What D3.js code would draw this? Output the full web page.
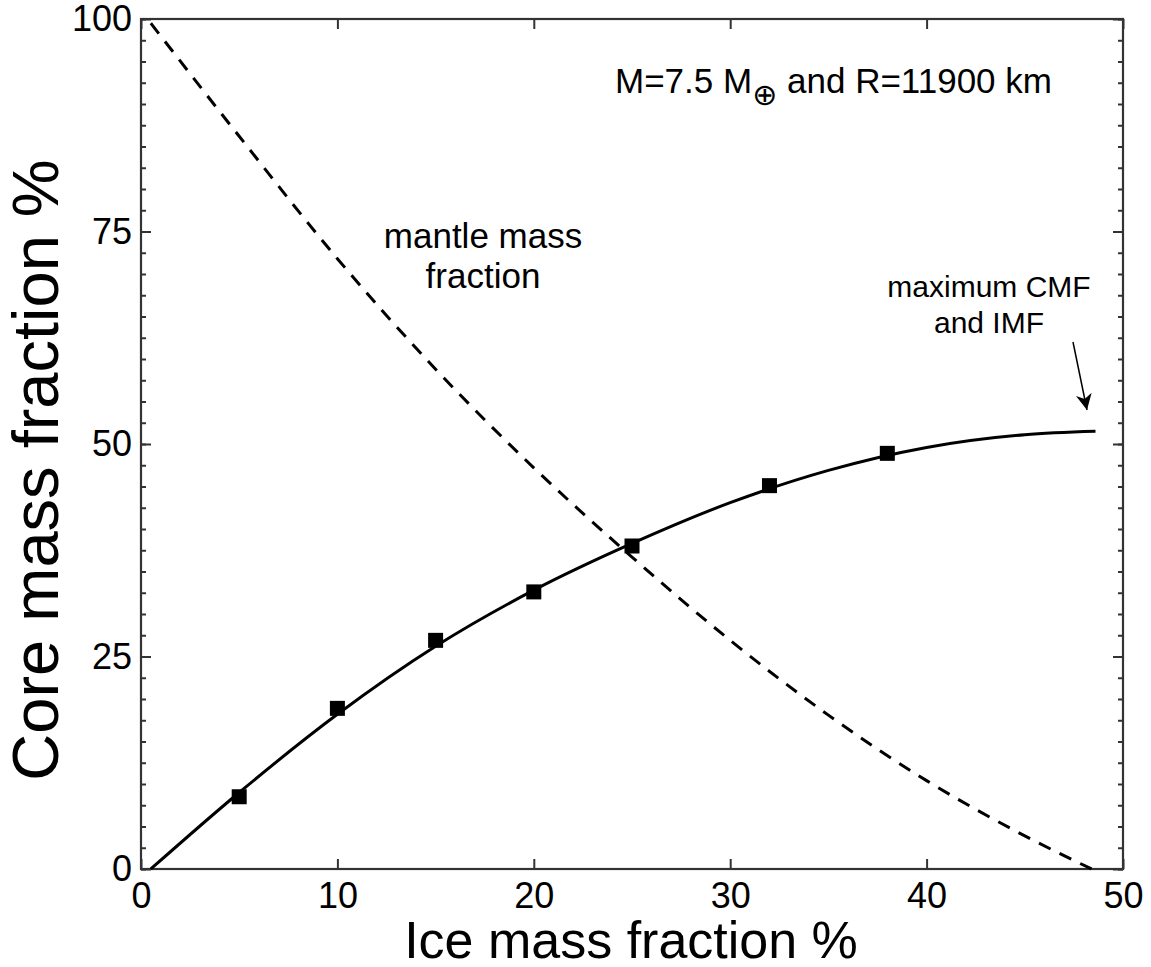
<!DOCTYPE html>
<html>
<head>
<meta charset="utf-8">
<script src="https://cdn.jsdelivr.net/npm/d3@7"></script>
<style>
  body { margin: 0; background: #fff; }
  text { font-family: "Liberation Sans", Arial, Helvetica, sans-serif; fill: #000; }
</style>
</head>
<body>
<svg id="chart" width="1151" height="967"></svg>
<script>
// Computed models (squares)
const iceFraction  = [5, 10, 15, 20, 25, 32, 38];
const coreFraction = [8.5, 18.9, 26.9, 32.6, 38.0, 45.1, 48.9];

// Fitted core mass fraction curve (solid)
const fitIce  = [0.5, 5, 10, 15, 20, 25, 30, 35, 40, 45, 48.6];
const fitCore = [0, 9.0, 18.2, 26.2, 32.8, 38.3, 43.1, 46.9, 49.6, 51.1, 51.5];

// Mantle mass fraction curve (dashed)
const mantleIce  = [0.5, 5, 10, 15, 20, 25, 30, 35, 40, 45, 48.4];
const mantleFrac = [99.5, 86.2, 71.8, 58.8, 47.2, 36.7, 26.9, 18.1, 10.4, 3.9, 0];

// Axis ticks
const xTicks = [0, 10, 20, 30, 40, 50];
const yTicks = [0, 25, 50, 75, 100];
const yMinorTicks = d3.range(0, 100.001, 2.5);

const svg = d3.select("#chart");
const plotLeft = 141, plotRight = 1123, plotTop = 19, plotBottom = 869;

const x = d3.scaleLinear().domain([0, 50]).range([plotLeft, plotRight]);
const y = d3.scaleLinear().domain([0, 100]).range([plotBottom, plotTop]);

const axisColor = "#333";
const tickFont = 36;

function styleAxis(g) {
  g.select(".domain").remove();
  g.selectAll(".tick line").attr("stroke", axisColor).attr("stroke-width", 2);
  g.selectAll(".tick text").attr("font-size", tickFont).attr("fill", "#000")
    .style("font-family", '"Liberation Sans", Arial, sans-serif');
}

// Bottom axis with labels
svg.append("g").attr("transform", `translate(0,${plotBottom})`)
  .call(d3.axisBottom(x).tickValues(xTicks).tickSize(-10).tickPadding(13).tickFormat(d3.format("d")))
  .call(styleAxis);
// Top axis (ticks only)
svg.append("g").attr("transform", `translate(0,${plotTop})`)
  .call(d3.axisTop(x).tickValues(xTicks).tickSize(-10).tickFormat(""))
  .call(styleAxis);
// Left axis: minor ticks, then major ticks with labels
svg.append("g").attr("transform", `translate(${plotLeft},0)`)
  .call(d3.axisLeft(y).tickValues(yMinorTicks).tickSize(-5).tickFormat(""))
  .call(styleAxis);
svg.append("g").attr("transform", `translate(${plotLeft},0)`)
  .call(d3.axisLeft(y).tickValues(yTicks).tickSize(-10).tickPadding(9).tickFormat(d3.format("d")))
  .call(styleAxis);
// Right axis: minor and major ticks
svg.append("g").attr("transform", `translate(${plotRight},0)`)
  .call(d3.axisRight(y).tickValues(yMinorTicks).tickSize(-5).tickFormat(""))
  .call(styleAxis);
svg.append("g").attr("transform", `translate(${plotRight},0)`)
  .call(d3.axisRight(y).tickValues(yTicks).tickSize(-10).tickFormat(""))
  .call(styleAxis);

// Frame
svg.append("rect")
  .attr("x", plotLeft).attr("y", plotTop)
  .attr("width", plotRight - plotLeft).attr("height", plotBottom - plotTop)
  .attr("fill", "none").attr("stroke", axisColor).attr("stroke-width", 2.2);

// Curves
const line = d3.line().x(d => x(d[0])).y(d => y(d[1])).curve(d3.curveMonotoneX);

svg.append("path")
  .datum(fitIce.map((v, i) => [v, fitCore[i]]))
  .attr("d", line)
  .attr("fill", "none").attr("stroke", "#000").attr("stroke-width", 3);

svg.append("path")
  .datum(mantleIce.map((v, i) => [v, mantleFrac[i]]))
  .attr("d", line)
  .attr("fill", "none").attr("stroke", "#000").attr("stroke-width", 3)
  .attr("stroke-dasharray", "13,10");

// Model squares
const sq = 15;
svg.append("g").selectAll("rect")
  .data(iceFraction.map((v, i) => [v, coreFraction[i]]))
  .join("rect")
  .attr("x", d => x(d[0]) - sq / 2)
  .attr("y", d => y(d[1]) - sq / 2)
  .attr("width", sq).attr("height", sq)
  .attr("fill", "#000");

// Axis titles
svg.append("text")
  .attr("x", 631).attr("y", 958)
  .attr("text-anchor", "middle").attr("font-size", 52)
  .text("Ice mass fraction %");

svg.append("text")
  .attr("transform", `translate(58,470) rotate(-90)`)
  .attr("text-anchor", "middle").attr("font-size", 65)
  .text("Core mass fraction %");

// Planet parameters
const info = svg.append("text").attr("x", 615).attr("y", 93).attr("font-size", 35);
info.append("tspan").text("M=7.5 M");
info.append("tspan").attr("font-size", 30).attr("dy", 12)
  .style("font-family", '"DejaVu Sans", sans-serif').text("\u2295");
info.append("tspan").attr("dy", -12).text(" and R=11900 km");

// Curve annotations
svg.append("text").attr("x", 483).attr("y", 248).attr("text-anchor", "middle")
  .attr("font-size", 35).text("mantle mass");
svg.append("text").attr("x", 483).attr("y", 288).attr("text-anchor", "middle")
  .attr("font-size", 35).text("fraction");

svg.append("text").attr("x", 989).attr("y", 297).attr("text-anchor", "middle")
  .attr("font-size", 30).text("maximum CMF");
svg.append("text").attr("x", 989).attr("y", 333).attr("text-anchor", "middle")
  .attr("font-size", 30).text("and IMF");

// Arrow pointing at the end of the fitted curve
svg.append("defs").append("marker")
  .attr("id", "head").attr("viewBox", "0 0 10 10")
  .attr("refX", 10).attr("refY", 5)
  .attr("markerWidth", 20).attr("markerHeight", 16)
  .attr("markerUnits", "userSpaceOnUse")
  .attr("orient", "auto")
  .append("path").attr("d", "M0,0 L10,5 L0,10 L3,5 Z").attr("fill", "#000");

svg.append("line")
  .attr("x1", 1073).attr("y1", 342)
  .attr("x2", 1087).attr("y2", 410)
  .attr("stroke", "#000").attr("stroke-width", 1.5)
  .attr("marker-end", "url(#head)");
</script>
</body>
</html>
